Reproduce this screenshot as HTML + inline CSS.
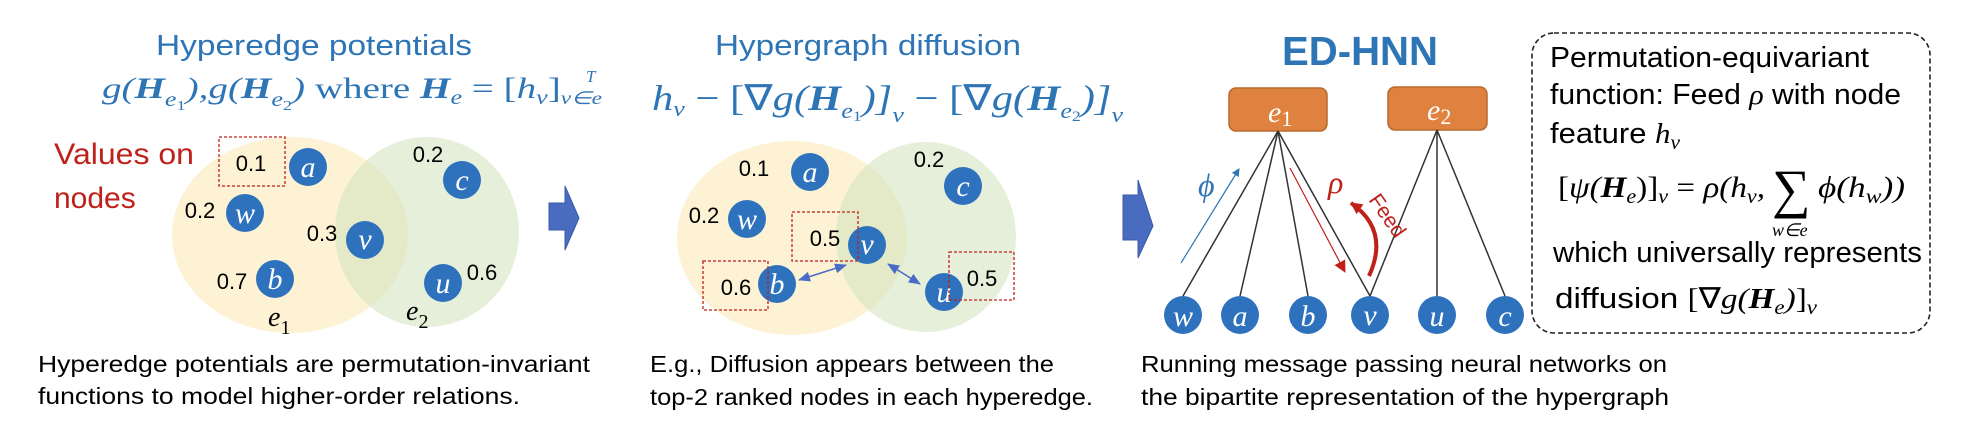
<!DOCTYPE html>
<html><head><meta charset="utf-8"><style>
html,body{margin:0;padding:0;background:#fff;}
svg{display:block;}
.s{font-family:"Liberation Sans",sans-serif;}
.m{font-family:"Liberation Serif",serif;font-style:italic;}
.nl{font-family:"Liberation Serif",serif;font-style:italic;fill:#fff;font-size:30px;text-anchor:middle;}
.num{font-family:"Liberation Sans",sans-serif;font-size:22px;fill:#000;text-anchor:middle;}
</style></head><body>
<svg width="1966" height="432" viewBox="0 0 1966 432" xmlns="http://www.w3.org/2000/svg">
<defs>
<marker id="ab" markerWidth="8" markerHeight="8" refX="7" refY="4" orient="auto" markerUnits="userSpaceOnUse"><path d="M0,0 L8,4 L0,8 z" fill="#2e75b6"/></marker>
<marker id="ar" markerWidth="12" markerHeight="12" refX="11" refY="6" orient="auto" markerUnits="userSpaceOnUse"><path d="M0,0 L12,6 L0,12 z" fill="#c0201a"/></marker>
<marker id="ad" markerWidth="12" markerHeight="12" refX="11" refY="6" orient="auto" markerUnits="userSpaceOnUse"><path d="M0,1 L12,6 L0,11 z" fill="#4a6cc8"/></marker>
<marker id="ads" markerWidth="12" markerHeight="12" refX="1" refY="6" orient="auto" markerUnits="userSpaceOnUse"><path d="M12,1 L0,6 L12,11 z" fill="#4a6cc8"/></marker>
</defs>

<!-- Panel 1 -->
<text x="156" y="55" class="s" font-size="29" fill="#2e75b6" textLength="316" lengthAdjust="spacingAndGlyphs">Hyperedge potentials</text>
<text x="102" y="98" class="m" font-size="30" fill="#2e75b6" textLength="500" lengthAdjust="spacingAndGlyphs">g(<tspan font-weight="bold">H</tspan><tspan font-size="20" dy="8">e</tspan><tspan font-size="14" dy="4" font-style="normal">1</tspan><tspan dy="-12">),g(</tspan><tspan font-weight="bold">H</tspan><tspan font-size="20" dy="8">e</tspan><tspan font-size="14" dy="4" font-style="normal">2</tspan><tspan dy="-12">)  </tspan><tspan font-style="normal">where </tspan><tspan font-weight="bold">H</tspan><tspan font-size="20" dy="6">e</tspan><tspan dy="-6" font-style="normal"> = [</tspan>h<tspan font-size="20" dy="6">v</tspan><tspan dy="-6" font-style="normal">]</tspan><tspan font-size="18" dy="6">v∈e</tspan></text>
<text x="586" y="82" class="m" font-size="17" fill="#2e75b6">T</text>
<text x="54" y="164" class="s" font-size="30" fill="#c0201a" textLength="140" lengthAdjust="spacingAndGlyphs">Values on</text>
<text x="54" y="208" class="s" font-size="30" fill="#c0201a">nodes</text>

<ellipse cx="290" cy="235" rx="118" ry="98" fill="#fbe9b5" fill-opacity="0.6"/>
<ellipse cx="427" cy="232" rx="92" ry="95" fill="#d3e4c0" fill-opacity="0.6"/>
<rect x="219" y="137" width="66" height="49" fill="none" stroke="#c0201a" stroke-width="1.3" stroke-dasharray="3,2"/>
<g fill="#2e72be">
<circle cx="308" cy="167" r="19"/><circle cx="245" cy="213" r="19"/><circle cx="365" cy="240" r="19"/>
<circle cx="275" cy="279" r="19"/><circle cx="462" cy="180" r="19"/><circle cx="443" cy="283" r="19"/>
</g>
<text x="308" y="177" class="nl">a</text><text x="245" y="223" class="nl">w</text><text x="365" y="249" class="nl">v</text>
<text x="275" y="289" class="nl">b</text><text x="462" y="190" class="nl">c</text><text x="443" y="293" class="nl">u</text>
<text x="251" y="171" class="num">0.1</text><text x="200" y="218" class="num">0.2</text><text x="322" y="241" class="num">0.3</text>
<text x="232" y="289" class="num">0.7</text><text x="428" y="162" class="num">0.2</text><text x="482" y="280" class="num">0.6</text>
<text x="268" y="326" class="m" font-size="28" fill="#000">e<tspan font-size="20" dy="8" font-style="normal">1</tspan></text>
<text x="406" y="320" class="m" font-size="28" fill="#000">e<tspan font-size="20" dy="8" font-style="normal">2</tspan></text>
<path d="M549,203 L565,203 L565,186 L579,218 L565,250 L565,230 L549,230 z" fill="#4a6cc0" stroke="#3a5aa8" stroke-width="1"/>
<text x="38" y="372" class="s" font-size="23" fill="#000" textLength="552" lengthAdjust="spacingAndGlyphs">Hyperedge potentials are permutation-invariant</text>
<text x="38" y="404" class="s" font-size="23" fill="#000" textLength="482" lengthAdjust="spacingAndGlyphs">functions to model higher-order relations.</text>

<!-- Panel 2 -->
<text x="715" y="55" class="s" font-size="29" fill="#2e75b6" textLength="306" lengthAdjust="spacingAndGlyphs">Hypergraph diffusion</text>
<text x="652" y="110" class="m" font-size="36" fill="#2e75b6" textLength="471" lengthAdjust="spacingAndGlyphs">h<tspan font-size="22" dy="6">v</tspan><tspan dy="-6" font-style="normal"> − [∇</tspan>g(<tspan font-weight="bold">H</tspan><tspan font-size="22" dy="8">e</tspan><tspan font-size="15" dy="3" font-style="normal">1</tspan><tspan dy="-11">)]</tspan><tspan font-size="22" dy="12">v</tspan><tspan dy="-12" font-style="normal"> − [∇</tspan>g(<tspan font-weight="bold">H</tspan><tspan font-size="22" dy="8">e</tspan><tspan font-size="15" dy="3" font-style="normal">2</tspan><tspan dy="-11">)]</tspan><tspan font-size="22" dy="12">v</tspan></text>

<ellipse cx="792" cy="238" rx="115" ry="97" fill="#fbe9b5" fill-opacity="0.6"/>
<ellipse cx="926" cy="237" rx="90" ry="95" fill="#d3e4c0" fill-opacity="0.6"/>
<g fill="#2e72be">
<circle cx="810" cy="172" r="19"/><circle cx="747" cy="219" r="19"/><circle cx="867" cy="245" r="19"/>
<circle cx="777" cy="284" r="19"/><circle cx="963" cy="186" r="19"/><circle cx="944" cy="292" r="19"/>
</g>
<text x="810" y="182" class="nl">a</text><text x="747" y="229" class="nl">w</text><text x="867" y="254" class="nl">v</text>
<text x="777" y="294" class="nl">b</text><text x="963" y="196" class="nl">c</text><text x="944" y="302" class="nl">u</text>
<rect x="792" y="212" width="66" height="49" fill="none" stroke="#c0201a" stroke-width="1.3" stroke-dasharray="3,2"/>
<rect x="703" y="261" width="65" height="49" fill="none" stroke="#c0201a" stroke-width="1.3" stroke-dasharray="3,2"/>
<rect x="949" y="252" width="65" height="48" fill="none" stroke="#c0201a" stroke-width="1.3" stroke-dasharray="3,2"/>
<text x="754" y="176" class="num">0.1</text><text x="704" y="223" class="num">0.2</text><text x="825" y="246" class="num">0.5</text>
<text x="736" y="295" class="num">0.6</text><text x="929" y="167" class="num">0.2</text><text x="982" y="286" class="num">0.5</text>
<line x1="799" y1="280" x2="846" y2="265" stroke="#4a6cc8" stroke-width="1.5" marker-start="url(#ads)" marker-end="url(#ad)"/>
<line x1="888" y1="264" x2="920" y2="284" stroke="#4a6cc8" stroke-width="1.5" marker-start="url(#ads)" marker-end="url(#ad)"/>
<text x="650" y="372" class="s" font-size="23" fill="#000" textLength="404" lengthAdjust="spacingAndGlyphs">E.g., Diffusion appears between the</text>
<text x="650" y="405" class="s" font-size="23" fill="#000" textLength="443" lengthAdjust="spacingAndGlyphs">top-2 ranked nodes in each hyperedge.</text>

<!-- Panel 3 -->
<path d="M1123,195 L1138,195 L1138,180 L1153,226 L1138,258 L1138,240 L1123,240 z" fill="#4a6cc0" stroke="#3a5aa8" stroke-width="1"/>
<text x="1282" y="65" class="s" font-size="41" font-weight="bold" fill="#2e75b6" textLength="156" lengthAdjust="spacingAndGlyphs">ED-HNN</text>
<rect x="1229" y="88" width="98" height="43" rx="7" fill="#e0823f" stroke="#b8692e" stroke-width="1.5"/>
<rect x="1388" y="87" width="99" height="43" rx="7" fill="#e0823f" stroke="#b8692e" stroke-width="1.5"/>
<text x="1268" y="122" class="m" font-size="30" fill="#fff">e<tspan font-size="22" dy="4" font-style="normal">1</tspan></text>
<text x="1427" y="120" class="m" font-size="30" fill="#fff">e<tspan font-size="22" dy="4" font-style="normal">2</tspan></text>
<g stroke="#333" stroke-width="1.5">
<line x1="1278" y1="131" x2="1183" y2="296"/><line x1="1278" y1="131" x2="1240" y2="296"/>
<line x1="1278" y1="131" x2="1308" y2="296"/><line x1="1278" y1="131" x2="1370" y2="296"/>
<line x1="1437" y1="130" x2="1370" y2="296"/><line x1="1437" y1="130" x2="1437" y2="296"/>
<line x1="1437" y1="130" x2="1505" y2="296"/>
</g>
<g fill="#2e72be">
<circle cx="1183" cy="315" r="19"/><circle cx="1240" cy="315" r="19"/><circle cx="1308" cy="315" r="19"/>
<circle cx="1370" cy="315" r="19"/><circle cx="1437" cy="315" r="19"/><circle cx="1505" cy="315" r="19"/>
</g>
<text x="1183" y="326" class="nl">w</text><text x="1240" y="326" class="nl">a</text><text x="1308" y="326" class="nl">b</text>
<text x="1370" y="325" class="nl">v</text><text x="1437" y="326" class="nl">u</text><text x="1505" y="326" class="nl">c</text>
<line x1="1181" y1="263" x2="1239" y2="169" stroke="#2e75b6" stroke-width="1.2" marker-end="url(#ab)"/>
<text x="1198" y="196" class="m" font-size="32" fill="#2e75b6">ϕ</text>
<line x1="1290" y1="168" x2="1345" y2="272" stroke="#c0201a" stroke-width="1.2" marker-end="url(#ar)"/>
<text x="1328" y="193" class="m" font-size="32" fill="#c0201a">ρ</text>
<path d="M1369,276 Q1390,230 1351,203" fill="none" stroke="#c0201a" stroke-width="4" marker-end="url(#ar)"/>
<text x="0" y="0" class="s" font-size="21" fill="#c0201a" transform="translate(1368,200) rotate(55)">Feed</text>
<text x="1141" y="372" class="s" font-size="23" fill="#000" textLength="526" lengthAdjust="spacingAndGlyphs">Running message passing neural networks on</text>
<text x="1141" y="405" class="s" font-size="23" fill="#000" textLength="528" lengthAdjust="spacingAndGlyphs">the bipartite representation of the hypergraph</text>

<!-- Dashed box -->
<rect x="1532" y="33" width="398" height="300" rx="22" fill="none" stroke="#222" stroke-width="1.6" stroke-dasharray="5,3"/>
<text x="1550" y="67" class="s" font-size="29" fill="#000" textLength="319" lengthAdjust="spacingAndGlyphs">Permutation-equivariant</text>
<text x="1550" y="104" class="s" font-size="29" fill="#000" textLength="351" lengthAdjust="spacingAndGlyphs">function: Feed <tspan class="m">ρ</tspan> with node</text>
<text x="1550" y="143" class="s" font-size="29" fill="#000" textLength="130" lengthAdjust="spacingAndGlyphs">feature <tspan class="m">h</tspan><tspan class="m" font-size="20" dy="6">v</tspan></text>
<text x="1558" y="197" class="m" font-size="30" fill="#000" textLength="207" lengthAdjust="spacingAndGlyphs"><tspan font-style="normal">[</tspan>ψ(<tspan font-weight="bold">H</tspan><tspan font-size="20" dy="6">e</tspan><tspan dy="-6" font-style="normal">)]</tspan><tspan font-size="20" dy="6">v</tspan><tspan dy="-6" font-style="normal"> = </tspan>ρ(h<tspan font-size="20" dy="6">v</tspan><tspan dy="-6">,</tspan></text>
<text x="1772" y="207" font-family="Liberation Serif,serif" font-size="54" fill="#000">∑</text>
<text x="1818" y="197" class="m" font-size="30" fill="#000" textLength="87" lengthAdjust="spacingAndGlyphs">ϕ(h<tspan font-size="20" dy="6">w</tspan><tspan dy="-6">))</tspan></text>
<text x="1772" y="236" class="m" font-size="18" fill="#000">w∈e</text>
<text x="1553" y="262" class="s" font-size="29" fill="#000" textLength="369" lengthAdjust="spacingAndGlyphs">which universally represents</text>
<text x="1555" y="308" class="s" font-size="29" fill="#000" textLength="262" lengthAdjust="spacingAndGlyphs">diffusion <tspan font-family="Liberation Serif,serif">[∇</tspan><tspan class="m">g(</tspan><tspan class="m" font-weight="bold">H</tspan><tspan class="m" font-size="20" dy="6">e</tspan><tspan class="m" dy="-6">)</tspan><tspan font-family="Liberation Serif,serif">]</tspan><tspan class="m" font-size="20" dy="6">v</tspan></text>
</svg>
</body></html>
